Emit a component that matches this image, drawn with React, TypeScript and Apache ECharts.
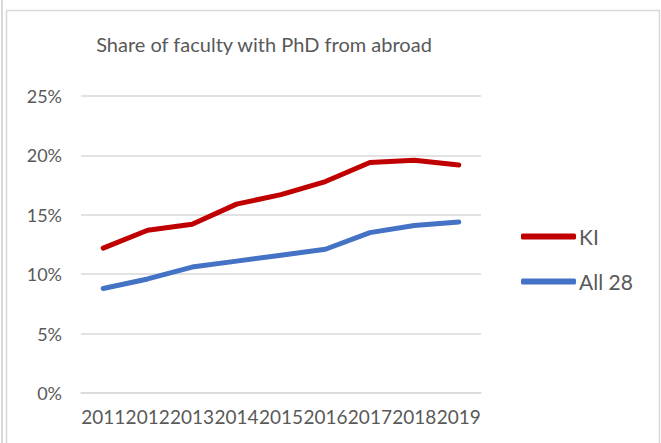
import React, { useEffect, useRef } from "react";
import * as echarts from "echarts";

const years = ["2011", "2012", "2013", "2014", "2015", "2016", "2017", "2018", "2019"];
const kiValues = [12.2, 13.7, 14.2, 15.9, 16.7, 17.8, 19.4, 19.6, 19.2];
const all28Values = [8.8, 9.6, 10.6, 11.1, 11.6, 12.1, 13.5, 14.1, 14.4];
const seriesNames = ["KI", "All 28"];
const titleText = "Share of faculty with PhD from abroad";

const FONT = "Lato, 'Open Sans', sans-serif";
const TEXT = "#595959";
const GRID = "#d9d9d9";

export default function App() {
  const ref = useRef<HTMLDivElement>(null);
  useEffect(() => {
    document.body.style.margin = "0";
    const chart = echarts.init(ref.current!, null, { renderer: "svg" });
    chart.setOption({
      animation: false,
      backgroundColor: "#ffffff",
      textStyle: { fontFamily: FONT },
      grid: { left: 81, right: 180, top: 96, bottom: 50, containLabel: false },
      graphic: [
        { type: "line", shape: { x1: 2, y1: 0, x2: 2, y2: 443 }, style: { stroke: GRID, lineWidth: 2 }, silent: true },
        { type: "rect", shape: { x: 6.5, y: 10.5, width: 653, height: 440 }, style: { fill: "none", stroke: GRID, lineWidth: 1.5 }, silent: true },
        {
          type: "text",
          x: 264,
          y: 44,
          style: {
            text: titleText,
            fill: TEXT,
            font: `20px ${FONT}`,
            textAlign: "center",
            textVerticalAlign: "middle",
          },
          silent: true,
        },
      ],
      legend: {
        orient: "vertical",
        left: 516,
        top: 221,
        itemWidth: 55,
        itemHeight: 6,
        itemGap: 24,
        icon: "roundRect",
        textStyle: { fontFamily: FONT, fontSize: 21, color: TEXT, padding: [0, 0, 0, -2] },
        data: seriesNames,
      },
      xAxis: {
        type: "category",
        data: years,
        boundaryGap: true,
        axisLine: { lineStyle: { color: GRID, width: 1.5 } },
        axisTick: { show: false },
        axisLabel: { interval: 0, color: TEXT, fontFamily: FONT, fontSize: 19, margin: 14 },
      },
      yAxis: {
        type: "value",
        min: 0,
        max: 25,
        interval: 5,
        axisLine: { show: false },
        axisTick: { show: false },
        splitLine: { lineStyle: { color: GRID, width: 1.5 } },
        axisLabel: { color: TEXT, fontFamily: FONT, fontSize: 18, margin: 19, formatter: "{value}%" },
      },
      series: [
        {
          name: seriesNames[0],
          type: "line",
          data: kiValues,
          symbol: "none",
          lineStyle: { color: "#C00000", width: 5, cap: "round", join: "round" },
          itemStyle: { color: "#C00000" },
        },
        {
          name: seriesNames[1],
          type: "line",
          data: all28Values,
          symbol: "none",
          lineStyle: { color: "#4472C4", width: 5, cap: "round", join: "round" },
          itemStyle: { color: "#4472C4" },
        },
      ],
    });
    return () => chart.dispose();
  }, []);
  return <div ref={ref} style={{ width: 661, height: 443, position: "absolute", left: 0, top: 0 }} />;
}
